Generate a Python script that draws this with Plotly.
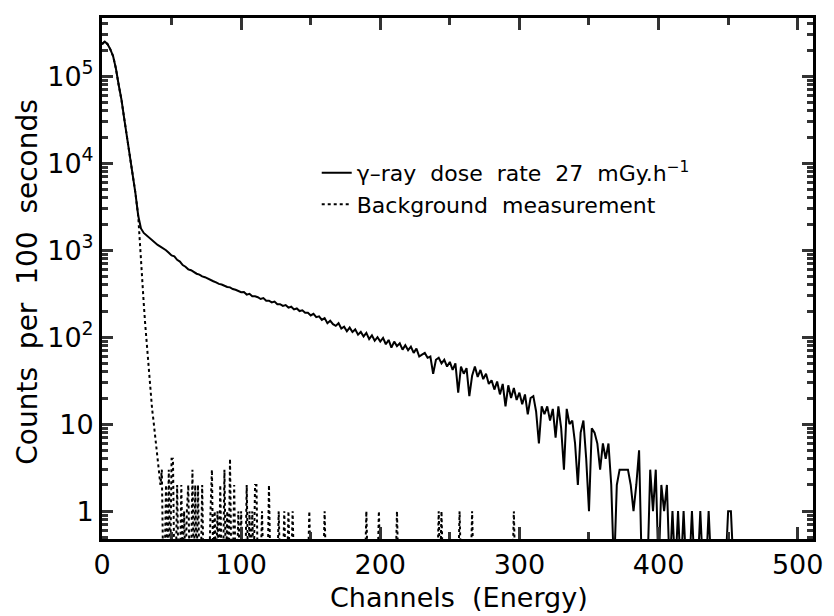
import plotly.graph_objects as go

# ---------------- data ----------------
# gamma-ray spectrum (solid): counts for channels 0, 2, 4, ... (step 2)
gamma_counts = [
    234000, 251000, 234000, 204000, 170000, 123000, 79400, 53700, 32400, 20000,   # 0-18
    12600, 7590, 4570, 2510, 1780, 1580, 1480, 1410, 1320, 1230,                  # 20-38
    1150, 1100, 1050, 1000, 933, 871, 851, 776, 741, 676,                          # 40-58
    646, 603, 589, 562, 537, 525, 501, 490, 470, 457,                              # 60-78
    440, 427, 410, 404, 390, 378, 374, 358, 351, 339,                              # 80-98
    329, 331, 309, 316, 295, 295, 288, 275, 282, 263,                              # 100-118
    263, 251, 257, 240, 240, 229, 234, 219, 224, 209,                              # 120-138
    214, 200, 204, 191, 191, 178, 186, 170, 174, 158,                              # 140-158
    166, 145, 155, 141, 135, 145, 126, 132, 117, 129,                              # 160-178
    115, 123, 107, 115, 102, 112, 95, 105, 91, 100,                                # 180-198
    89, 98, 83, 93, 76, 89, 79, 85, 72, 81,                                        # 200-218
    71, 78, 66, 74, 60, 63, 66, 58, 60, 38,                                        # 220-238
    55, 58, 50, 55, 46, 52, 42, 50, 23, 46,                                        # 240-258
    38, 44, 21, 36, 46, 35, 42, 33, 38, 29,                                        # 260-278
    32, 25, 31, 22, 29, 16, 28, 20, 26, 19,                                        # 280-298
    23, 17, 22, 13, 20, 21, 14, 6, 16, 13,                                         # 300-318
    16, 11, 15, 7, 16, 9, 3, 15, 10, 11,                                           # 320-338
    6, 2, 8, 11, 4, 1, 9, 8, 6, 3,                                                 # 340-358
    6, 4, 6, 2, 0, 2, 3, 3, 3, 3,                                                  # 360-378
    2, 1, 2, 5, 0, 0, 0, 3, 1, 3,                                                  # 380-398
    0, 2, 1, 2, 0, 1, 0, 1, 0, 1,                                                  # 400-418
    0, 0, 1, 0, 0, 1, 0, 0, 1, 0,                                                  # 420-438
    0, 0, 0, 0, 0, 1, 1, 0, 0, 0,                                                  # 440-458
    0,                                                                             # 460
]
gamma_channels = [2 * i for i in range(len(gamma_counts))]

# background measurement (dotted): steep fall-off, then isolated counts
bg_curve_channels = [0, 2, 4, 6, 8, 10, 12, 14, 16, 18, 20, 22, 24,
                     26, 27, 28, 29, 30, 31, 32, 33, 34, 35, 36, 37, 38,
                     39, 40, 41, 42, 43]
bg_curve_counts = [234000, 251000, 234000, 204000, 170000, 123000, 79400,
                   53700, 32400, 20000, 12600, 7590, 4570,
                   2510, 1320, 740, 410, 245, 145, 89, 57, 37, 24, 15, 11, 8,
                   6, 4, 3, 2, 3]
bg_spike_channels = [46, 48, 50, 51, 54, 57, 59, 61, 62, 65, 67, 69, 72, 78, 79,
                     81, 83, 85, 88, 90, 92, 95, 98, 100, 104, 106, 108, 110,
                     111, 115, 120, 127, 131, 134, 137, 149, 160, 190, 199,
                     212, 242, 244, 257, 266, 296]
bg_spike_counts = [2, 3, 4, 4, 2, 2, 1, 1, 2, 3, 2, 2, 2, 1, 3,
                   1, 1, 2, 3, 1, 4, 2, 1, 1, 2, 1, 1, 2,
                   2, 1, 2, 1, 1, 1, 1, 1, 1, 1, 1,
                   1, 1, 1, 1, 1, 1]
bg_last_channel = 300

x_tick_vals = [0, 100, 200, 300, 400, 500]
y_tick_vals = [1, 10, 100, 1000, 10000, 100000]
y_tick_text = ["1", "10", "10<sup>2</sup>", "10<sup>3</sup>", "10<sup>4</sup>", "10<sup>5</sup>"]

gamma_name = "γ–ray\u00a0 dose\u00a0 rate\u00a0 27\u00a0 mGy.h<sup>−1</sup>"
bg_name = "Background\u00a0 measurement"
x_title = "Channels\u00a0 (Energy)"
y_title = "Counts\u00a0 per\u00a0 100\u00a0 seconds"

# ---------------- build traces ----------------
ZERO_FLOOR = 0.2   # zero counts are drawn down to (below) the axis bottom


def floor_zero(vals):
    return [v if v > 0 else ZERO_FLOOR for v in vals]


spikes = dict(zip(bg_spike_channels, bg_spike_counts))
tail_start = bg_curve_channels[-1] + 1
bg_channels = bg_curve_channels + list(range(tail_start, bg_last_channel + 1))
bg_counts = bg_curve_counts + [spikes.get(c, 0) for c in range(tail_start, bg_last_channel + 1)]

FONT = "DejaVu Sans"
TICK = "#333333"

fig = go.Figure()
fig.add_trace(go.Scatter(
    x=gamma_channels, y=floor_zero(gamma_counts), mode="lines",
    name=gamma_name, line=dict(color="black", width=2, dash="solid"),
))
fig.add_trace(go.Scatter(
    x=bg_channels, y=floor_zero(bg_counts), mode="lines",
    name=bg_name, line=dict(color="black", width=2, dash="dot"),
))

fig.update_layout(
    width=834, height=616,
    margin=dict(l=102, r=21, t=18, b=77),
    paper_bgcolor="white", plot_bgcolor="white",
    font=dict(family=FONT, color="black"),
    showlegend=True,
    legend=dict(
        x=0.302, y=0.743, xanchor="left", yanchor="top",
        bgcolor="rgba(0,0,0,0)", borderwidth=0,
        font=dict(family=FONT, size=22, color="black"),
        tracegroupgap=0,
    ),
    annotations=[
        dict(text=x_title, xref="paper", yref="paper", x=0.502, y=-0.113,
             xanchor="center", yanchor="middle", showarrow=False,
             font=dict(family=FONT, size=27, color="black")),
        dict(text=y_title, xref="paper", yref="paper", x=-0.104, y=0.494,
             xanchor="center", yanchor="middle", showarrow=False, textangle=-90,
             font=dict(family=FONT, size=28, color="black")),
    ],
)

fig.update_xaxes(
    range=[0, 511],
    tickmode="array", tickvals=x_tick_vals,
    ticks="inside", ticklen=12, tickwidth=3, tickcolor=TICK,
    minor=dict(dtick=50, ticks="inside", ticklen=7, tickwidth=2.5,
               tickcolor=TICK, showgrid=False),
    showline=True, linewidth=3, linecolor="black", mirror="allticks",
    showgrid=False, zeroline=False,
    tickfont=dict(family=FONT, size=27, color="black"),
)
fig.update_yaxes(
    type="log", range=[-0.32, 5.67],
    tickmode="array", tickvals=y_tick_vals, ticktext=y_tick_text,
    ticks="inside", ticklen=11, tickwidth=3, tickcolor=TICK,
    minor=dict(dtick="D1", ticks="inside", ticklen=6, tickwidth=2.5,
               tickcolor=TICK, showgrid=False),
    showline=True, linewidth=3, linecolor="black", mirror="allticks",
    showgrid=False, zeroline=False,
    tickfont=dict(family=FONT, size=27, color="black"),
)

fig.write_html("out.html")
